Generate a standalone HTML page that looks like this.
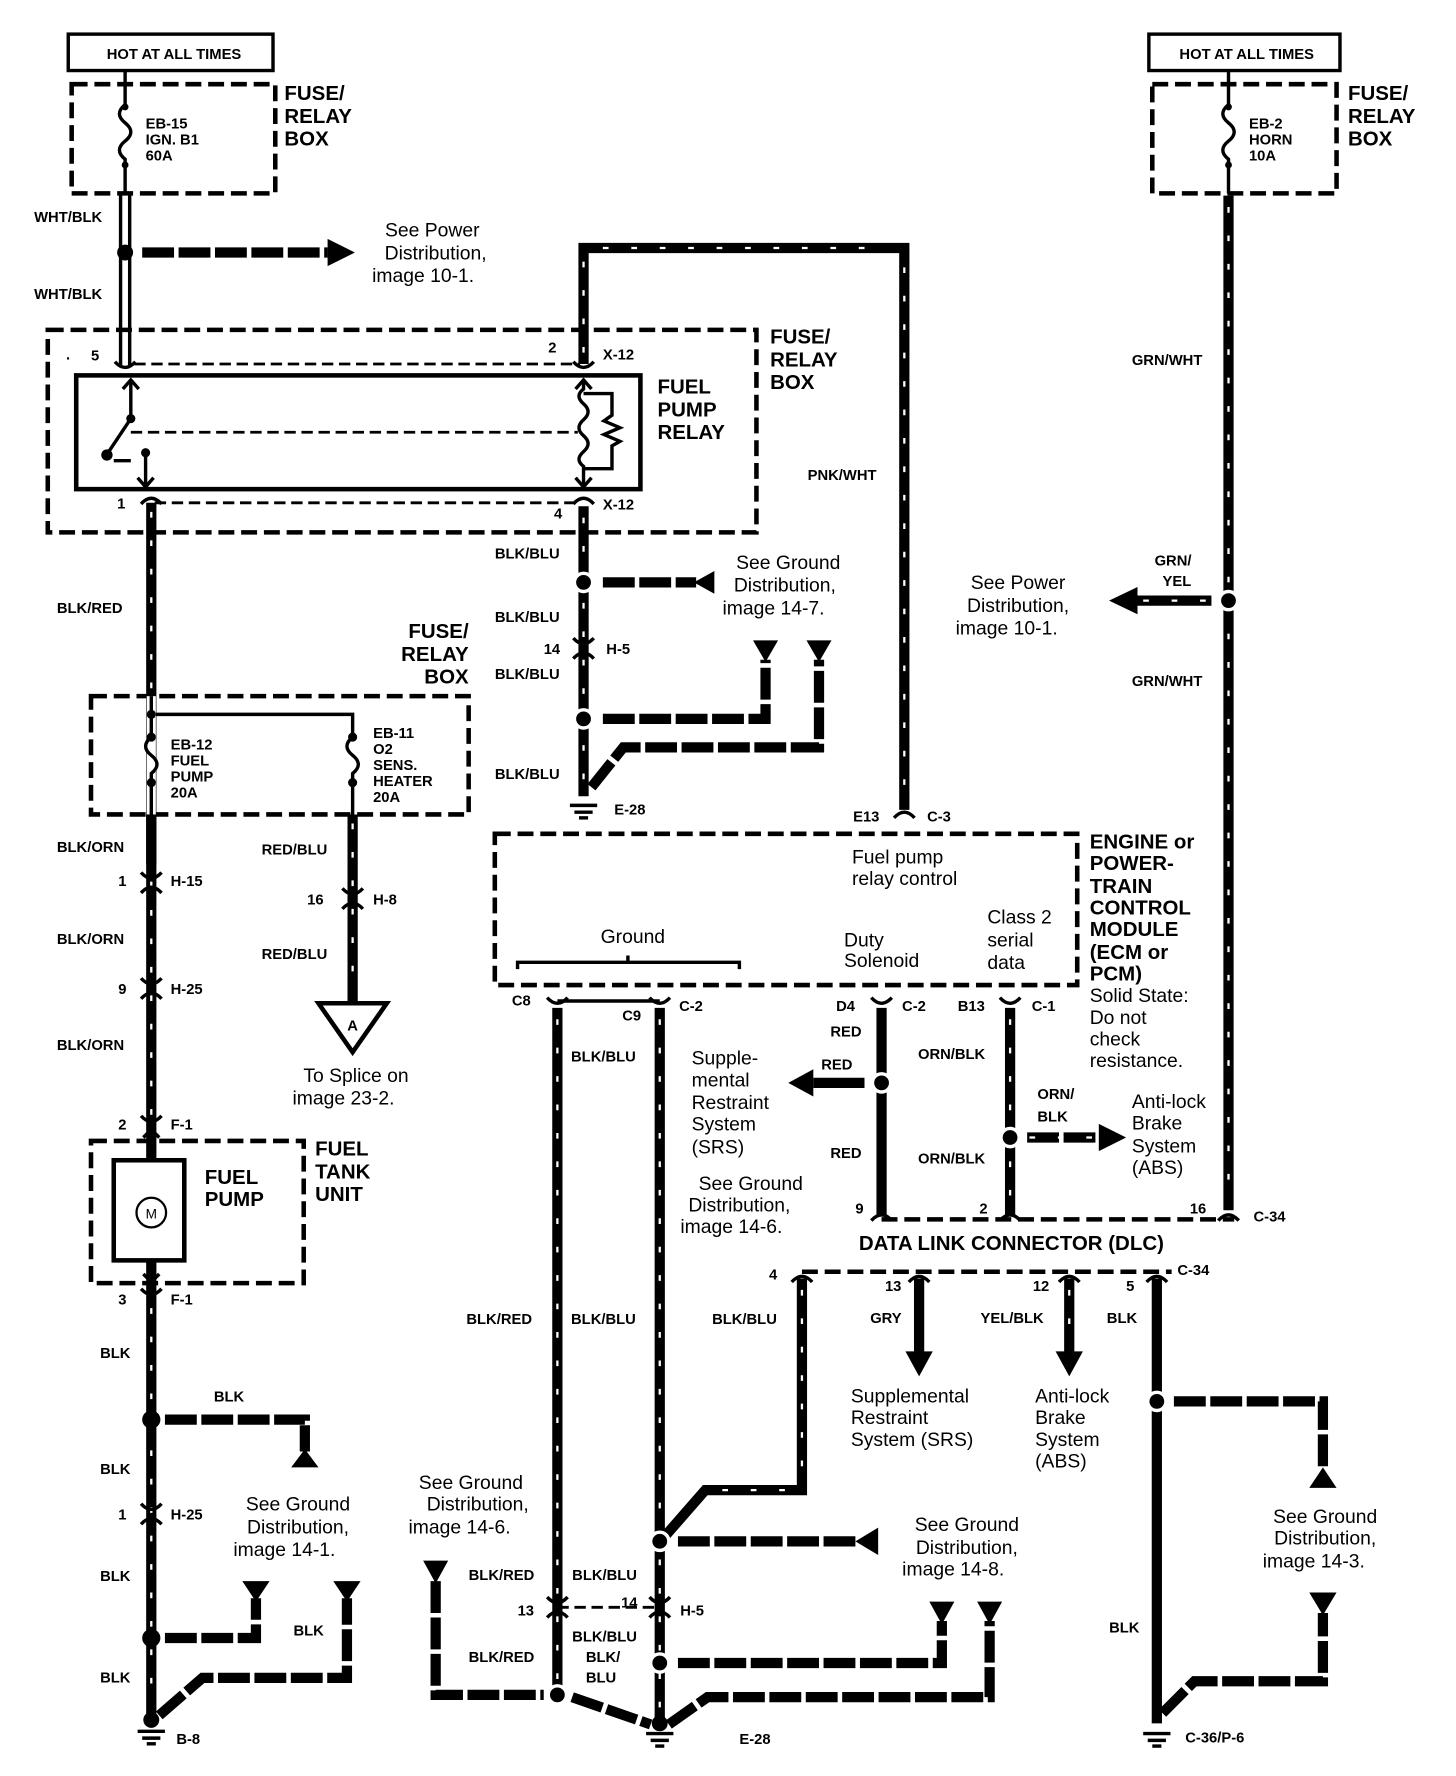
<!DOCTYPE html>
<html><head><meta charset="utf-8"><style>
html,body{margin:0;padding:0;background:#fff}
svg{display:block}
text{font-family:"Liberation Sans",sans-serif;fill:#000}
.b{font-weight:bold;font-size:13px}
.B{font-weight:bold;font-size:18px}
.n{font-size:17px}
.w{stroke:#000;stroke-width:9;fill:none}
.s{stroke:#fff;stroke-width:2;stroke-dasharray:5 20;fill:none}
.g{stroke:#000;stroke-width:9;fill:none;stroke-dasharray:28 4}
.d{stroke:#000;stroke-width:4;fill:none;stroke-dasharray:14 6}
.t{stroke:#000;stroke-width:2.5;fill:none;stroke-dasharray:10 5}
.l{stroke:#000;stroke-width:3;fill:none}
</style></head><body>
<svg width="1456" height="1776" viewBox="0 0 1280 1561.3" xmlns="http://www.w3.org/2000/svg">
<defs>
<g id="gnd"><line x1="-12" y1="0" x2="12" y2="0" class="l" stroke-width="4"/><line x1="-8" y1="6" x2="8" y2="6" class="l"/><line x1="-4" y1="11" x2="4" y2="11" class="l"/></g>
<g id="con"><path d="M-9,-7 Q0,3 9,-7" class="l" stroke-width="4"/></g>
<g id="conu"><path d="M-9,5 Q0,-5 9,5" class="l" stroke-width="4"/></g>
</defs>

<!-- TOP LEFT -->
<rect x="60" y="30" width="180" height="32" fill="none" stroke="#000" stroke-width="3"/>
<text x="153" y="52" class="b" text-anchor="middle">HOT AT ALL TIMES</text>
<rect x="63" y="74" width="179" height="96" class="d"/>
<path d="M110,62 V92 Q100,100 110,108 Q120,116 110,124 Q100,132 110,140 V170" class="l" stroke-width="2.5"/>
<circle cx="110" cy="94" r="3"/><circle cx="110" cy="145" r="3"/>
<text x="128" y="113" class="b" font-size="12">EB-15</text>
<text x="128" y="127" class="b" font-size="12">IGN. B1</text>
<text x="128" y="141" class="b" font-size="12">60A</text>
<text x="250" y="88" class="B">FUSE/</text><text x="250" y="108" class="B">RELAY</text><text x="250" y="128" class="B">BOX</text>

<path d="M106,170 V322 M114,170 V322" class="l" stroke-width="2.5"/>
<circle cx="110" cy="222" r="7"/>
<text x="30" y="195" class="b">WHT/BLK</text>
<text x="30" y="263" class="b">WHT/BLK</text>
<path d="M125,222 H288" class="g" stroke-width="7"/>
<polygon points="288,210 312,222 288,234"/>
<text x="380" y="208" class="n" text-anchor="middle">See Power</text>
<text x="383" y="228" class="n" text-anchor="middle">Distribution,</text>
<text x="372" y="248" class="n" text-anchor="middle">image 10-1.</text>

<!-- Relay box -->
<rect x="42" y="290" width="623" height="178" class="d"/>
<path d="M118,320 H510" class="t"/>
<path d="M136,442 H508" class="t"/>
<rect x="67" y="330" width="496" height="100" fill="none" stroke="#000" stroke-width="4"/>
<text x="58" y="316" class="b">.</text>
<text x="80" y="317" class="b">5</text>
<text x="482" y="310" class="b">2</text><text x="530" y="316" class="b">X-12</text>
<text x="103" y="447" class="b">1</text>
<text x="487" y="456" class="b">4</text><text x="530" y="448" class="b">X-12</text>
<use href="#con" x="110" y="325"/><use href="#con" x="513" y="325"/>
<use href="#conu" x="133" y="438"/><use href="#conu" x="513" y="438"/>
<path d="M115,334 V368 L95,398" class="l"/>
<path d="M108,342 L115,334 L122,342" class="l"/>
<circle cx="115" cy="368" r="4"/><circle cx="94" cy="400" r="5"/>
<path d="M100,405 H115" class="l"/>
<circle cx="128" cy="398" r="4"/>
<path d="M128,398 V428 M121,420 L128,428 L135,420" class="l"/>
<path d="M115,380 H508" class="t"/>
<path d="M513,334 V342 Q505,348 513,355 Q521,362 513,369 Q505,376 513,383 Q521,390 513,397 Q505,404 513,410 V428" class="l"/>
<path d="M506,342 L513,334 L520,342 M506,420 L513,428 L520,420" class="l"/>
<path d="M513,346 H538 V365 L531,370 L545,376 L531,382 L545,388 L538,392 V412 H513" class="l" stroke-width="2.5"/>
<text x="578" y="346" class="B">FUEL</text><text x="578" y="366" class="B">PUMP</text><text x="578" y="386" class="B">RELAY</text>
<text x="677" y="302" class="B">FUSE/</text><text x="677" y="322" class="B">RELAY</text><text x="677" y="342" class="B">BOX</text>

<!-- Left main wire -->
<path d="M133,442 V1510" class="w"/><path d="M133,450 V1500" class="s"/>
<text x="50" y="539" class="b">BLK/RED</text>
<rect x="80" y="612" width="332" height="104" class="d"/>
<path d="M133,628 H310 V640" class="l"/>
<rect x="129" y="612" width="8" height="104" fill="#fff"/>
<path d="M133,612 V648 Q123,656 133,664 Q143,672 133,680 V716" class="l" stroke-width="3"/>
<circle cx="133" cy="628" r="4"/><circle cx="133" cy="648" r="4"/><circle cx="133" cy="688" r="4"/>
<path d="M310,640 V648 Q300,656 310,664 Q320,672 310,680 V716" class="l" stroke-width="3"/>
<circle cx="310" cy="648" r="4"/><circle cx="310" cy="688" r="4"/>
<text x="150" y="659" class="b" font-size="12">EB-12</text><text x="150" y="673" class="b" font-size="12">FUEL</text><text x="150" y="687" class="b" font-size="12">PUMP</text><text x="150" y="701" class="b" font-size="12">20A</text>
<text x="328" y="649" class="b" font-size="12">EB-11</text><text x="328" y="663" class="b" font-size="12">O2</text><text x="328" y="677" class="b" font-size="12">SENS.</text><text x="328" y="691" class="b" font-size="12">HEATER</text><text x="328" y="705" class="b" font-size="12">20A</text>
<text x="412" y="561" class="B" text-anchor="end">FUSE/</text><text x="412" y="581" class="B" text-anchor="end">RELAY</text><text x="412" y="601" class="B" text-anchor="end">BOX</text>
<path d="M133,716 V760" class="w"/>
<text x="50" y="749" class="b">BLK/ORN</text>
<use href="#con" x="133" y="774"/><use href="#conu" x="133" y="780"/>
<text x="104" y="779" class="b">1</text><text x="150" y="779" class="b">H-15</text>
<text x="50" y="830" class="b">BLK/ORN</text>
<use href="#con" x="133" y="867"/><use href="#conu" x="133" y="873"/>
<text x="104" y="874" class="b">9</text><text x="150" y="874" class="b">H-25</text>
<text x="50" y="923" class="b">BLK/ORN</text>
<use href="#con" x="133" y="988"/>
<text x="104" y="993" class="b">2</text><text x="150" y="993" class="b">F-1</text>

<path d="M310,716 V880" class="w"/><path d="M310,724 V870" class="s"/>
<text x="230" y="751" class="b">RED/BLU</text>
<use href="#con" x="310" y="788"/><use href="#conu" x="310" y="794"/>
<text x="270" y="795" class="b">16</text><text x="328" y="795" class="b">H-8</text>
<text x="230" y="843" class="b">RED/BLU</text>
<polygon points="280,882 340,882 310,925" fill="#fff" stroke="#000" stroke-width="4"/>
<text x="310" y="906" class="b" font-size="16" text-anchor="middle">A</text>
<text x="313" y="951" class="n" text-anchor="middle">To Splice on</text>
<text x="302" y="971" class="n" text-anchor="middle">image 23-2.</text>

<!-- Fuel tank unit -->
<rect x="80" y="1003" width="187" height="125" class="d"/>
<rect x="129" y="996" width="8" height="140" fill="#000"/>
<rect x="100" y="1020" width="62" height="88" fill="#fff" stroke="#000" stroke-width="4"/>
<circle cx="133" cy="1066" r="13" fill="#fff" stroke="#000" stroke-width="2"/>
<text x="133" y="1071" font-size="12" text-anchor="middle">M</text>
<path d="M126,1000 L133,993 L140,1000 M126,1120 L133,1127 L140,1120" class="l" stroke="#000"/>
<text x="180" y="1041" class="B">FUEL</text><text x="180" y="1060" class="B">PUMP</text>
<text x="277" y="1016" class="B">FUEL</text><text x="277" y="1036" class="B">TANK</text><text x="277" y="1056" class="B">UNIT</text>
<use href="#con" x="133" y="1140"/>
<text x="104" y="1147" class="b">3</text><text x="150" y="1147" class="b">F-1</text>
<text x="88" y="1194" class="b">BLK</text>
<circle cx="133" cy="1248" r="8"/>
<path d="M145,1248 H268 V1276" class="g"/>
<polygon points="256,1290 268,1274 280,1290"/>
<text x="188" y="1232" class="b">BLK</text>
<text x="88" y="1296" class="b">BLK</text>
<use href="#con" x="133" y="1329"/><use href="#conu" x="133" y="1335"/>
<text x="104" y="1336" class="b">1</text><text x="150" y="1336" class="b">H-25</text>
<text x="88" y="1390" class="b">BLK</text>
<circle cx="133" cy="1440" r="8"/>
<path d="M145,1440 H225 V1405" class="g"/>
<polygon points="213,1390 237,1390 225,1408"/>
<path d="M140,1508 L178,1475 H305 V1405" class="g"/>
<polygon points="293,1390 317,1390 305,1408"/>
<text x="258" y="1438" class="b">BLK</text>
<text x="88" y="1479" class="b">BLK</text>
<circle cx="133" cy="1512" r="7"/>
<use href="#gnd" x="133" y="1522"/>
<text x="155" y="1533" class="b">B-8</text>
<text x="262" y="1328" class="n" text-anchor="middle">See Ground</text>
<text x="262" y="1348" class="n" text-anchor="middle">Distribution,</text>
<text x="250" y="1368" class="n" text-anchor="middle">image 14-1.</text>

<!-- Middle top loop -->
<path d="M513,320 V218 H795 V712" class="w"/>
<path d="M513,310 V228 M530,218 H780 M795,235 V700" class="s" stroke-dasharray="6 26"/>
<text x="710" y="422" class="b">PNK/WHT</text>
<path d="M513,445 V700" class="w"/><path d="M513,455 V690" class="s"/>
<text x="435" y="491" class="b">BLK/BLU</text>
<circle cx="513" cy="512" r="8" stroke="#fff" stroke-width="3"/>
<path d="M530,512 H612" class="g"/>
<polygon points="610,512 628,502 628,522"/>
<text x="693" y="500" class="n" text-anchor="middle">See Ground</text>
<text x="690" y="520" class="n" text-anchor="middle">Distribution,</text>
<text x="680" y="540" class="n" text-anchor="middle">image 14-7.</text>
<text x="435" y="547" class="b">BLK/BLU</text>
<use href="#con" x="513" y="568"/><use href="#conu" x="513" y="574"/>
<text x="478" y="575" class="b">14</text><text x="533" y="575" class="b">H-5</text>
<text x="435" y="597" class="b">BLK/BLU</text>
<circle cx="513" cy="632" r="8" stroke="#fff" stroke-width="3"/>
<path d="M530,632 H673 V580" class="g"/>
<polygon points="662,563 684,563 673,582"/>
<path d="M520,692 L548,657 H720 V580" class="g"/>
<polygon points="709,563 731,563 720,582"/>
<text x="435" y="685" class="b">BLK/BLU</text>
<use href="#gnd" x="513" y="708"/>
<text x="540" y="716" class="b">E-28</text>
<text x="750" y="722" class="b">E13</text><text x="815" y="722" class="b">C-3</text>
<use href="#conu" x="795" y="714"/>

<!-- ECM -->
<rect x="435" y="733" width="512" height="133" class="d"/>
<text x="749" y="759" class="n">Fuel pump</text><text x="749" y="778" class="n">relay control</text>
<text x="528" y="829" class="n">Ground</text>
<path d="M455,852 V846 H650 V852 M552,846 V840" class="l"/>
<text x="742" y="832" class="n">Duty</text><text x="742" y="850" class="n">Solenoid</text>
<text x="868" y="812" class="n">Class 2</text><text x="868" y="832" class="n">serial</text><text x="868" y="852" class="n">data</text>
<text x="958" y="746" class="B">ENGINE or</text><text x="958" y="765" class="B">POWER-</text><text x="958" y="785" class="B">TRAIN</text><text x="958" y="804" class="B">CONTROL</text><text x="958" y="823" class="B">MODULE</text><text x="958" y="843" class="B">(ECM or</text><text x="958" y="862" class="B">PCM)</text>
<text x="958" y="881" class="n">Solid State:</text><text x="958" y="900" class="n">Do not</text><text x="958" y="919" class="n">check</text><text x="958" y="938" class="n">resistance.</text>

<text x="450" y="884" class="b">C8</text><text x="547" y="897" class="b">C9</text><text x="597" y="889" class="b">C-2</text>
<path d="M490,880 H580" class="l"/>
<use href="#con" x="490" y="884"/><use href="#con" x="580" y="884"/>
<path d="M490,886 V1490" class="w"/><path d="M490,896 V1480" class="s"/>
<path d="M580,886 V1520" class="w"/><path d="M580,896 V1510" class="s"/>
<text x="502" y="933" class="b">BLK/BLU</text>
<text x="608" y="936" class="n">Supple-</text><text x="608" y="955" class="n">mental</text><text x="608" y="975" class="n">Restraint</text><text x="608" y="994" class="n">System</text><text x="608" y="1014" class="n">(SRS)</text>
<text x="660" y="1046" class="n" text-anchor="middle">See Ground</text><text x="650" y="1065" class="n" text-anchor="middle">Distribution,</text><text x="643" y="1084" class="n" text-anchor="middle">image 14-6.</text>

<text x="735" y="889" class="b">D4</text><text x="793" y="889" class="b">C-2</text>
<text x="842" y="889" class="b">B13</text><text x="907" y="889" class="b">C-1</text>
<use href="#con" x="775" y="884"/><use href="#con" x="888" y="884"/>
<path d="M775,886 V1068" class="w"/>
<circle cx="775" cy="952" r="8" stroke="#fff" stroke-width="3"/>
<path d="M760,952 H715" class="w"/>
<polygon points="715,940 693,952 715,964"/>
<text x="730" y="911" class="b">RED</text><text x="722" y="940" class="b">RED</text><text x="730" y="1018" class="b">RED</text>
<path d="M888,886 V1068" class="w"/><path d="M888,896 V1060" class="s"/>
<circle cx="888" cy="1000" r="8" stroke="#fff" stroke-width="3"/>
<path d="M903,1000 H968" class="g"/><path d="M905,1000 H965" class="s" stroke-dasharray="8 14"/>
<polygon points="966,988 990,1000 966,1012"/>
<text x="807" y="931" class="b">ORN/BLK</text><text x="912" y="966" class="b">ORN/</text><text x="912" y="986" class="b">BLK</text><text x="807" y="1023" class="b">ORN/BLK</text>
<text x="995" y="974" class="n">Anti-lock</text><text x="995" y="993" class="n">Brake</text><text x="995" y="1013" class="n">System</text><text x="995" y="1032" class="n">(ABS)</text>
<path d="M775,1072 H1085" class="d"/>
<use href="#conu" x="775" y="1068"/><use href="#conu" x="888" y="1068"/><use href="#conu" x="1080" y="1068"/>
<text x="752" y="1067" class="b">9</text><text x="861" y="1067" class="b">2</text><text x="1046" y="1067" class="b">16</text><text x="1102" y="1074" class="b">C-34</text>
<text x="755" y="1099" class="B" font-size="17">DATA LINK CONNECTOR (DLC)</text>

<!-- Right horn column -->
<rect x="1010" y="30" width="168" height="32" fill="none" stroke="#000" stroke-width="3"/>
<text x="1096" y="52" class="b" text-anchor="middle">HOT AT ALL TIMES</text>
<rect x="1013" y="74" width="162" height="96" class="d"/>
<path d="M1080,62 V92 Q1070,100 1080,108 Q1090,116 1080,124 Q1070,132 1080,140 V170" class="l" stroke-width="2.5"/>
<circle cx="1080" cy="94" r="3"/><circle cx="1080" cy="145" r="3"/>
<text x="1098" y="113" class="b" font-size="12">EB-2</text><text x="1098" y="127" class="b" font-size="12">HORN</text><text x="1098" y="141" class="b" font-size="12">10A</text>
<text x="1185" y="88" class="B">FUSE/</text><text x="1185" y="108" class="B">RELAY</text><text x="1185" y="128" class="B">BOX</text>
<path d="M1080,172 V1064" class="w"/><path d="M1080,182 V1055" class="s"/>
<text x="995" y="321" class="b">GRN/WHT</text>
<text x="1015" y="497" class="b">GRN/</text><text x="1022" y="515" class="b">YEL</text>
<circle cx="1080" cy="528" r="8" stroke="#fff" stroke-width="3"/>
<path d="M1065,528 H1000" class="w"/><path d="M1060,528 H1005" class="s" stroke-dasharray="10 14"/>
<polygon points="1000,516 975,528 1000,540"/>
<text x="895" y="518" class="n" text-anchor="middle">See Power</text><text x="895" y="538" class="n" text-anchor="middle">Distribution,</text><text x="885" y="558" class="n" text-anchor="middle">image 10-1.</text>
<text x="995" y="603" class="b">GRN/WHT</text>

<!-- DLC lower -->
<path d="M705,1118 H1030" class="d"/>
<use href="#conu" x="705" y="1122"/><use href="#conu" x="808" y="1122"/><use href="#conu" x="940" y="1122"/><use href="#conu" x="1017" y="1122"/>
<text x="676" y="1125" class="b">4</text><text x="778" y="1135" class="b">13</text><text x="908" y="1135" class="b">12</text><text x="990" y="1135" class="b">5</text><text x="1035" y="1121" class="b">C-34</text>
<path d="M705,1124 V1310 H620 L585,1350" class="w"/><path d="M705,1134 V1300 M690,1310 H630" class="s"/>
<text x="626" y="1164" class="b">BLK/BLU</text>
<path d="M808,1124 V1190" class="w"/><polygon points="796,1188 820,1188 808,1210"/>
<text x="765" y="1163" class="b">GRY</text>
<text x="748" y="1233" class="n">Supplemental</text><text x="748" y="1252" class="n">Restraint</text><text x="748" y="1271" class="n">System (SRS)</text>
<path d="M940,1124 V1190" class="w"/><path d="M940,1134 V1180" class="s"/><polygon points="928,1188 952,1188 940,1210"/>
<text x="862" y="1163" class="b">YEL/BLK</text>
<text x="910" y="1233" class="n">Anti-lock</text><text x="910" y="1252" class="n">Brake</text><text x="910" y="1271" class="n">System</text><text x="910" y="1290" class="n">(ABS)</text>
<path d="M1017,1124 V1515" class="w"/>
<text x="973" y="1163" class="b">BLK</text>
<circle cx="1017" cy="1232" r="8" stroke="#fff" stroke-width="3"/>
<path d="M1032,1232 H1163 V1292" class="g"/>
<polygon points="1151,1308 1163,1290 1175,1308"/>
<path d="M1022,1506 L1050,1478 H1163 V1418" class="g"/>
<polygon points="1151,1400 1175,1400 1163,1420"/>
<text x="1165" y="1339" class="n" text-anchor="middle">See Ground</text><text x="1165" y="1358" class="n" text-anchor="middle">Distribution,</text><text x="1155" y="1378" class="n" text-anchor="middle">image 14-3.</text>
<text x="975" y="1435" class="b">BLK</text>
<use href="#gnd" x="1017" y="1524"/>
<text x="1042" y="1532" class="b">C-36/P-6</text>

<!-- Bottom middle -->
<text x="410" y="1164" class="b">BLK/RED</text><text x="502" y="1164" class="b">BLK/BLU</text>
<text x="414" y="1309" class="n" text-anchor="middle">See Ground</text><text x="420" y="1328" class="n" text-anchor="middle">Distribution,</text><text x="404" y="1348" class="n" text-anchor="middle">image 14-6.</text>
<circle cx="580" cy="1355" r="8" stroke="#fff" stroke-width="3"/>
<path d="M596,1355 H752" class="g"/>
<polygon points="752,1355 772,1343 772,1367"/>
<text x="850" y="1346" class="n" text-anchor="middle">See Ground</text><text x="850" y="1366" class="n" text-anchor="middle">Distribution,</text><text x="838" y="1385" class="n" text-anchor="middle">image 14-8.</text>
<polygon points="372,1372 394,1372 383,1392"/>
<path d="M383,1390 V1490 H478" class="g"/>
<text x="412" y="1389" class="b">BLK/RED</text><text x="503" y="1389" class="b">BLK/BLU</text>
<path d="M490,1413 H580" class="t" stroke-width="3"/>
<use href="#con" x="490" y="1411"/><use href="#conu" x="490" y="1417"/>
<use href="#con" x="580" y="1411"/><use href="#conu" x="580" y="1417"/>
<text x="455" y="1420" class="b">13</text><text x="546" y="1413" class="b">14</text><text x="598" y="1420" class="b">H-5</text>
<text x="412" y="1461" class="b">BLK/RED</text><text x="503" y="1443" class="b">BLK/BLU</text><text x="515" y="1461" class="b">BLK/</text><text x="515" y="1479" class="b">BLU</text>
<circle cx="580" cy="1462" r="8" stroke="#fff" stroke-width="3"/>
<path d="M596,1462 H828 V1425" class="g"/>
<polygon points="817,1408 839,1408 828,1428"/>
<circle cx="490" cy="1490" r="8" stroke="#fff" stroke-width="3"/>
<path d="M503,1492 L572,1516 M588,1516 L622,1492 H870 V1425" class="g"/>
<polygon points="859,1408 881,1408 870,1428"/>
<circle cx="580" cy="1515" r="7"/>
<use href="#gnd" x="580" y="1524"/>
<text x="650" y="1533" class="b">E-28</text>
</svg>
</body></html>
